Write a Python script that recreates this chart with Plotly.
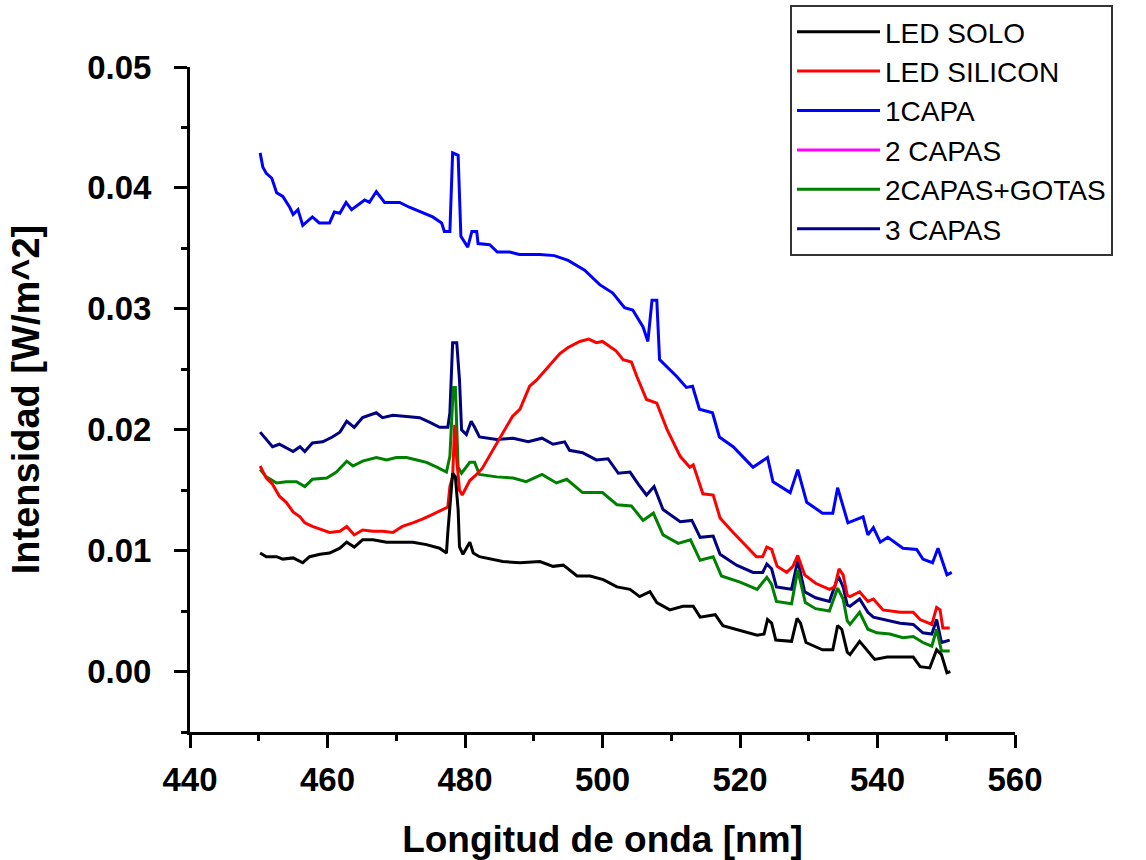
import plotly.graph_objects as go

# ---------------- data ----------------
names = ["LED SOLO", "LED SILICON", "1CAPA", "2 CAPAS", "2CAPAS+GOTAS", "3 CAPAS"]
colors = ["#000000", "#FF0000", "#0000FF", "#FF00FF", "#008000", "#000080"]

solo_x = [450.2, 451.1, 452.6, 453.5, 455.0, 456.4, 457.4, 458.9, 460.3, 461.8, 462.8, 463.9, 465.1, 466.6,
          468.6, 470.5, 472.4, 474.4, 476.3, 477.3, 477.5, 478.2, 478.6, 479.0, 479.2, 479.7, 480.7, 481.2,
          482.1, 485.5, 488.0, 490.9, 492.8, 494.3, 496.3, 498.2, 500.1, 502.1, 504.0, 505.4, 506.9, 507.9,
          509.8, 511.7, 513.2, 514.2, 516.4, 517.5, 520.0, 522.5, 523.5, 524.0, 524.6, 525.2, 527.5, 528.3,
          528.8, 529.6, 532.0, 533.5, 534.2, 534.8, 535.6, 536.0, 537.4, 538.6, 539.6, 541.4, 543.3, 545.2,
          546.2, 547.6, 548.6, 549.3, 550.1, 550.6]
solo_y = [0.0098, 0.0095, 0.0095, 0.0093, 0.0094, 0.0090, 0.0095, 0.0097, 0.0098, 0.0102, 0.0107, 0.0103,
          0.0109, 0.0109, 0.0107, 0.0107, 0.0107, 0.0105, 0.0102, 0.0098, 0.0115, 0.0164, 0.0161, 0.0134,
          0.0103, 0.0097, 0.0107, 0.0098, 0.0095, 0.0091, 0.0090, 0.0091, 0.0087, 0.0088, 0.0079, 0.0079,
          0.0076, 0.0070, 0.0068, 0.0062, 0.0066, 0.0057, 0.0051, 0.0054, 0.0054, 0.0045, 0.0047, 0.0038,
          0.0034, 0.0030, 0.0031, 0.0043, 0.0040, 0.0026, 0.0025, 0.0044, 0.0040, 0.0024, 0.0018, 0.0018,
          0.0038, 0.0035, 0.0016, 0.0014, 0.0025, 0.0017, 0.0010, 0.0012, 0.0012, 0.0012, 0.0004, 0.0003,
          0.0018, 0.0014, -0.0001, 0.0000]

silicon_x = [450.2, 451.1, 452.0, 453.0, 454.0, 455.0, 456.0, 456.7, 457.8, 459.3, 460.3, 461.8, 462.8, 463.9,
             465.1, 466.6, 468.0, 469.5, 470.9, 472.4, 473.8, 475.3, 476.7, 477.5, 477.8, 478.2, 478.5, 478.8,
             479.2, 479.6, 480.7, 481.5, 482.5, 484.6, 486.9, 488.0, 489.4, 490.4, 492.0, 493.8, 495.0, 496.7,
             498.0, 499.1, 500.0, 501.0, 502.0, 503.0, 504.2, 505.0, 506.4, 507.9, 509.4, 511.3, 512.7, 513.2,
             514.6, 516.1, 517.1, 519.0, 521.0, 522.4, 523.3, 523.9, 524.6, 525.4, 526.8, 527.7, 528.4, 529.4,
             531.0, 533.0, 533.8, 534.4, 535.0, 535.6, 536.0, 537.4, 538.6, 539.4, 540.8, 543.3, 545.2, 546.2,
             547.9, 548.6, 549.1, 549.5, 550.5]
silicon_y = [0.0170, 0.0160, 0.0155, 0.0145, 0.0140, 0.0132, 0.0128, 0.0123, 0.0120, 0.0117, 0.0115, 0.0116,
             0.0120, 0.0113, 0.0117, 0.0116, 0.0116, 0.0115, 0.0120, 0.0123, 0.0126, 0.0130, 0.0134, 0.0136,
             0.0153, 0.0161, 0.0204, 0.0175, 0.0150, 0.0146, 0.0158, 0.0162, 0.0168, 0.0189, 0.0211, 0.0217,
             0.0236, 0.0241, 0.0251, 0.0263, 0.0268, 0.0273, 0.0275, 0.0272, 0.0273, 0.0269, 0.0265, 0.0258,
             0.0256, 0.0244, 0.0225, 0.0222, 0.0200, 0.0178, 0.0169, 0.0171, 0.0147, 0.0146, 0.0127, 0.0115,
             0.0103, 0.0095, 0.0095, 0.0103, 0.0101, 0.0087, 0.0082, 0.0087, 0.0096, 0.0080, 0.0073, 0.0068,
             0.0070, 0.0085, 0.0080, 0.0063, 0.0062, 0.0066, 0.0058, 0.0060, 0.0051, 0.0049, 0.0049, 0.0043,
             0.0039, 0.0053, 0.0051, 0.0036, 0.0036]

capa1_x = [450.2, 450.6, 451.1, 451.9, 452.6, 453.5, 454.5, 455.0, 455.7, 456.4, 457.8, 458.8, 460.3, 461.0,
           461.8, 462.7, 463.5, 465.4, 466.1, 467.1, 468.3, 470.5, 471.9, 473.6, 475.3, 476.6, 477.0, 477.8,
           477.9, 478.2, 479.0, 479.2, 479.4, 480.4, 481.0, 481.7, 481.9, 483.6, 484.7, 486.5, 487.9, 490.9,
           493.0, 495.0, 497.4, 499.6, 501.5, 503.2, 504.4, 505.9, 506.6, 507.2, 507.9, 508.3, 510.8, 512.2,
           513.1, 514.1, 516.0, 517.0, 519.0, 521.2, 521.9, 524.0, 524.8, 527.3, 528.4, 529.7, 532.0, 533.5,
           534.2, 535.7, 537.9, 538.6, 539.4, 540.4, 541.5, 543.7, 545.7, 546.6, 548.0, 548.8, 549.5, 550.1,
           550.8]
capa1_y = [0.0429, 0.0417, 0.0412, 0.0408, 0.0396, 0.0393, 0.0384, 0.0378, 0.0382, 0.0369, 0.0376, 0.0371,
           0.0371, 0.0380, 0.0379, 0.0388, 0.0382, 0.0390, 0.0388, 0.0397, 0.0388, 0.0388, 0.0384, 0.0380,
           0.0376, 0.0371, 0.0364, 0.0364, 0.0378, 0.0429, 0.0427, 0.0398, 0.0360, 0.0351, 0.0364, 0.0364,
           0.0354, 0.0353, 0.0347, 0.0347, 0.0345, 0.0345, 0.0344, 0.0340, 0.0332, 0.0320, 0.0313, 0.0301,
           0.0299, 0.0285, 0.0273, 0.0307, 0.0307, 0.0258, 0.0244, 0.0235, 0.0236, 0.0217, 0.0214, 0.0194,
           0.0186, 0.0173, 0.0169, 0.0177, 0.0157, 0.0148, 0.0167, 0.0140, 0.0131, 0.0131, 0.0152, 0.0123,
           0.0128, 0.0113, 0.0119, 0.0107, 0.0111, 0.0102, 0.0101, 0.0093, 0.0090, 0.0102, 0.0090, 0.0080,
           0.0082]

capas2_x = [None]
capas2_y = [None]

gotas_x = [450.2, 451.1, 452.6, 454.0, 455.5, 456.7, 457.8, 459.9, 461.3, 462.8, 463.7, 465.1, 467.1, 468.6,
           470.0, 471.5, 473.0, 474.4, 475.9, 477.3, 477.8, 478.3, 478.6, 479.0, 479.5, 480.7, 481.4, 482.1,
           484.6, 487.0, 488.9, 491.2, 493.3, 494.8, 497.1, 500.0, 502.1, 504.2, 505.9, 507.4, 508.8, 511.0,
           512.8, 514.2, 516.1, 517.3, 520.0, 522.5, 523.9, 524.6, 525.3, 527.5, 528.4, 529.5, 531.0, 533.0,
           534.2, 535.0, 535.6, 536.0, 537.4, 538.6, 539.9, 541.8, 543.7, 545.2, 546.6, 547.9, 548.6, 549.3,
           550.5]
gotas_y = [0.0167, 0.0161, 0.0156, 0.0157, 0.0157, 0.0153, 0.0159, 0.0160, 0.0165, 0.0174, 0.0170, 0.0174,
           0.0177, 0.0175, 0.0177, 0.0177, 0.0175, 0.0173, 0.0169, 0.0165, 0.0178, 0.0235, 0.0235, 0.0169,
           0.0164, 0.0173, 0.0173, 0.0163, 0.0161, 0.0160, 0.0157, 0.0163, 0.0156, 0.0159, 0.0148, 0.0148,
           0.0138, 0.0137, 0.0125, 0.0131, 0.0113, 0.0106, 0.0109, 0.0092, 0.0095, 0.0079, 0.0074, 0.0068,
           0.0078, 0.0072, 0.0058, 0.0056, 0.0084, 0.0057, 0.0052, 0.0050, 0.0069, 0.0060, 0.0042, 0.0039,
           0.0049, 0.0035, 0.0032, 0.0031, 0.0028, 0.0029, 0.0024, 0.0021, 0.0035, 0.0017, 0.0017]

capas3_x = [450.2, 451.1, 452.0, 453.0, 454.0, 455.0, 456.0, 456.7, 457.8, 459.3, 460.7, 461.8, 462.8, 463.9,
            465.1, 467.1, 468.0, 469.5, 471.5, 473.4, 474.9, 476.3, 477.5, 477.8, 478.2, 478.8, 479.2, 479.5,
            480.2, 480.9, 481.4, 482.1, 484.6, 487.0, 489.2, 491.2, 492.8, 494.5, 495.2, 497.1, 499.1, 500.8,
            502.3, 504.0, 505.2, 506.4, 507.5, 508.8, 511.3, 513.0, 514.2, 516.1, 517.1, 519.5, 521.9, 523.3,
            523.9, 524.6, 525.3, 527.5, 528.4, 529.4, 531.0, 533.0, 534.3, 535.0, 535.6, 536.0, 537.4, 538.6,
            539.4, 540.8, 543.3, 545.2, 546.6, 547.9, 548.6, 549.3, 550.5]
capas3_y = [0.0198, 0.0192, 0.0186, 0.0188, 0.0185, 0.0182, 0.0186, 0.0182, 0.0189, 0.0190, 0.0194, 0.0198,
            0.0207, 0.0202, 0.0210, 0.0214, 0.0210, 0.0212, 0.0211, 0.0210, 0.0206, 0.0202, 0.0202, 0.0214,
            0.0272, 0.0272, 0.0241, 0.0200, 0.0196, 0.0207, 0.0202, 0.0194, 0.0192, 0.0193, 0.0190, 0.0193,
            0.0188, 0.0190, 0.0183, 0.0181, 0.0175, 0.0176, 0.0164, 0.0165, 0.0155, 0.0146, 0.0153, 0.0134,
            0.0124, 0.0125, 0.0111, 0.0112, 0.0097, 0.0088, 0.0082, 0.0082, 0.0089, 0.0085, 0.0070, 0.0068,
            0.0092, 0.0066, 0.0061, 0.0058, 0.0079, 0.0070, 0.0055, 0.0054, 0.0060, 0.0049, 0.0045, 0.0043,
            0.0040, 0.0039, 0.0032, 0.0031, 0.0043, 0.0024, 0.0026]

xs = [solo_x, silicon_x, capa1_x, capas2_x, gotas_x, capas3_x]
ys = [solo_y, silicon_y, capa1_y, capas2_y, gotas_y, capas3_y]

x_ticks = [440, 460, 480, 500, 520, 540, 560]
y_ticks = [0.00, 0.01, 0.02, 0.03, 0.04, 0.05]

FONT = "Liberation Sans, Arial, sans-serif"

fig = go.Figure()
# draw last series first so earlier ones sit on top; legend keeps original order
for i in reversed(range(len(names))):
    fig.add_trace(go.Scatter(
        x=xs[i], y=ys[i], mode="lines", name=names[i],
        line=dict(color=colors[i], width=3),
        legendrank=i + 1,
    ))

axis_common = dict(
    showline=True, linecolor="black", linewidth=3,
    ticks="outside", ticklen=13, tickwidth=3, tickcolor="black",
    showgrid=False, zeroline=False, mirror=False, automargin=False,
    tickfont=dict(family=FONT, size=33, color="black", weight="bold"),
)

fig.update_layout(
    width=1146, height=860,
    margin=dict(l=190, r=131, t=67, b=128, autoexpand=False),
    paper_bgcolor="white", plot_bgcolor="white",
    xaxis=dict(range=[440, 560], tickvals=x_ticks, ticktext=[str(v) for v in x_ticks],
               ticklabelstandoff=3,
               minor=dict(ticks="outside", ticklen=6, tickwidth=3, tickcolor="black", dtick=10, tick0=440),
               title=dict(text="Longitud de onda [nm]", standoff=30,
                          font=dict(family=FONT, size=37, color="black", weight="bold")),
               **axis_common),
    yaxis=dict(range=[-0.005, 0.05], tickvals=y_ticks, tickformat=".2f",
               ticklabelstandoff=16,
               minor=dict(ticks="outside", ticklen=6, tickwidth=3, tickcolor="black", dtick=0.005, tick0=0),
               title=dict(text="Intensidad [W/m^2]", standoff=36,
                          font=dict(family=FONT, size=38, color="black", weight="bold")),
               **axis_common),
    legend=dict(
        xref="container", yref="container",
        x=790 / 1146, y=1 - 5 / 860, xanchor="left", yanchor="top",
        bgcolor="white", bordercolor="#333333", borderwidth=2,
        font=dict(family=FONT, size=28, color="black"),
        itemwidth=83, traceorder="normal",
    ),
    showlegend=True,
)

fig.write_html("out.html", config={"displayModeBar": False},
               post_script="document.body.style.margin='0';")
